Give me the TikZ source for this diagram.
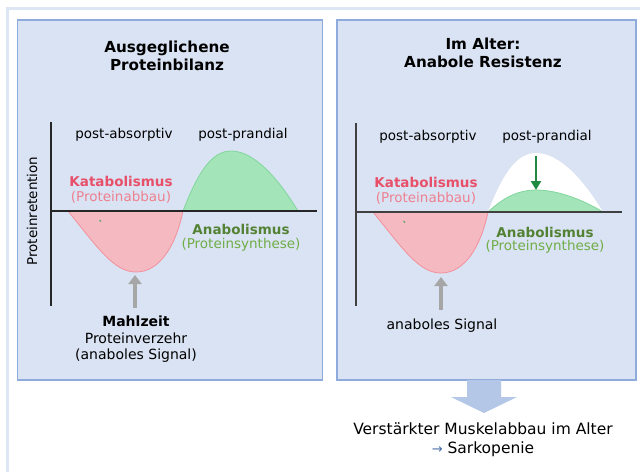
\documentclass[tikz,border=0pt]{standalone}
\usepackage{fontspec}
\setmainfont{DejaVu Sans}
\usetikzlibrary{arrows.meta}
\definecolor{panelfill}{HTML}{DAE3F3}
\definecolor{panelline}{HTML}{8FAADC}
\definecolor{framecol}{HTML}{DCE6F4}
\definecolor{redfill}{HTML}{F5B9C1}
\definecolor{redline}{HTML}{F2909B}
\definecolor{greenfill}{HTML}{A4E4B9}
\definecolor{greenline}{HTML}{80D69C}
\definecolor{katacol}{HTML}{E8506A}
\definecolor{katasub}{HTML}{EE8090}
\definecolor{anacol}{HTML}{548235}
\definecolor{anasub}{HTML}{70AD47}
\definecolor{grayarrow}{HTML}{A6A6A6}
\definecolor{bigarrow}{HTML}{B4C7E7}
\definecolor{darkgreen}{HTML}{1F8A3F}
\definecolor{smallarrow}{HTML}{4A6FA5}
\tikzset{
  panel/.style={draw=panelline, fill=panelfill, line width=1.3pt, inner sep=0pt},
  titletext/.style={font=\fontsize{15.2}{18}\selectfont\bfseries, align=center, inner sep=0pt},
  lbl/.style={font=\fontsize{13.5}{15}\selectfont, inner sep=0pt},
  katabold/.style={font=\fontsize{13.5}{15}\selectfont\bfseries, text=katacol, inner sep=0pt},
  katasmall/.style={font=\fontsize{13.5}{15}\selectfont, text=katasub, inner sep=0pt},
  anabold/.style={font=\fontsize{13.5}{15}\selectfont\bfseries, text=anacol, inner sep=0pt},
  anasmall/.style={font=\fontsize{13.5}{15}\selectfont, text=anasub, inner sep=0pt},
  axisline/.style={line width=1.3pt, draw=black!85},
  redarea/.style={fill=redfill, draw=redline, line width=0.8pt},
  greenarea/.style={fill=greenfill, draw=greenline, line width=0.8pt},
  signalarrow/.style={draw=grayarrow, line width=4pt, -{Triangle[width=13pt,length=9pt]}},
}
\begin{document}
\begin{tikzpicture}[x=1pt,y=-1pt]
\useasboundingbox (0,0) rectangle (640,472);
\fill[white] (0,0) rectangle (640,472);
% outer frame
\draw[framecol, line width=3pt] (7.5,472) -- (7.5,8.5) -- (640,8.5);

% panels
\node[panel, minimum width=305pt, minimum height=360pt] (lp) at (169.8,200) {};
\node[panel, minimum width=299pt, minimum height=360pt] (rp) at (486.5,200) {};

% titles
\node[titletext] (lt) at (167,56) {Ausgeglichene\\Proteinbilanz};
\node[titletext] (rt) at (483,53) {Im Alter:\\Anabole Resistenz};

% ---------- left panel ----------
\draw[redarea] (68,211) .. controls (98,248) and (114,272) .. (136,272) .. controls (160,272) and (176,245) .. (183,211);
\draw[greenarea] (183,211) .. controls (198,172) and (212,151) .. (231,151) .. controls (254,151) and (278,178) .. (298,211);
\draw[axisline] (51,122) -- (51,306);
\draw[axisline] (51,211) -- (317,211);
\draw[darkgreen!70!greenline, line width=1pt] (99.5,220) -- (101,221.5);

\node[lbl, rotate=90] (lyl) at (32,211) {Proteinretention};
\node[lbl] (lpa) at (124,135) {post-absorptiv};
\node[lbl] (lpp) at (243,135) {post-prandial};
\node[katabold] (lk) at (121,181) {Katabolismus};
\node[katasmall] (lks) at (121,197) {(Proteinabbau)};
\node[anabold] (la) at (241,229) {Anabolismus};
\node[anasmall] (las) at (241,245) {(Proteinsynthese)};
\node[lbl, font=\fontsize{14}{16}\selectfont\bfseries] (lm) at (136,321) {Mahlzeit};
\node[lbl, font=\fontsize{14}{16}\selectfont, align=center] (lmv) at (136,348) {Proteinverzehr\\(anaboles Signal)};
\coordinate (lbot) at (135,275);
\coordinate (lfoot) at (135,308);
\draw[signalarrow] (lfoot) -- (lbot);

% ---------- right panel ----------
\begin{scope}[shift={(305,1)}]
\draw[redarea] (68,211) .. controls (98,248) and (114,272) .. (136,272) .. controls (160,272) and (176,245) .. (183,211);
\fill[white] (183,211) .. controls (198,172) and (212,152) .. (231,152) .. controls (254,152) and (278,178) .. (298,211) -- cycle;
\draw[greenarea] (183,211) .. controls (199,196) and (214,189) .. (231,189) .. controls (254,189) and (280,200) .. (298,211);
\draw[darkgreen!70!greenline, line width=1pt] (98.5,220) -- (100,221.5);
\coordinate (rtop) at (231,155);
\coordinate (rpeak) at (231,189);
\coordinate (rbot) at (136,276);
\coordinate (rfoot) at (136,309);
\end{scope}
\draw[axisline, draw=black!75] (356,123) -- (356,306);
\draw[axisline, draw=black!75] (356,212) -- (622,212);
\draw[darkgreen, line width=2.5pt, -{Triangle[width=10pt,length=9pt]}] (rtop) -- (rpeak);
\draw[signalarrow] (rfoot) -- (rbot);

\node[lbl] (rpa) at (428,137) {post-absorptiv};
\node[lbl] (rpp) at (547,137) {post-prandial};
\node[katabold] (rk) at (426,182) {Katabolismus};
\node[katasmall] (rks) at (426,198) {(Proteinabbau)};
\node[anabold] (ra) at (545,232) {Anabolismus};
\node[anasmall] (ras) at (545,247) {(Proteinsynthese)};
\node[lbl, font=\fontsize{14}{16}\selectfont] (rs) at (442,326) {anaboles Signal};

% ---------- bottom ----------
\fill[bigarrow] (467,380) -- (501,380) -- (501,397) -- (517,397) -- (484,413) -- (451,397) -- (467,397) -- cycle;
\node[lbl, font=\fontsize{15.5}{19}\selectfont, align=center] (res) at (483,440) {Verstärkter Muskelabbau im Alter\\{\color{smallarrow}\fontsize{13}{13}\selectfont →} Sarkopenie};
\end{tikzpicture}
\end{document}
